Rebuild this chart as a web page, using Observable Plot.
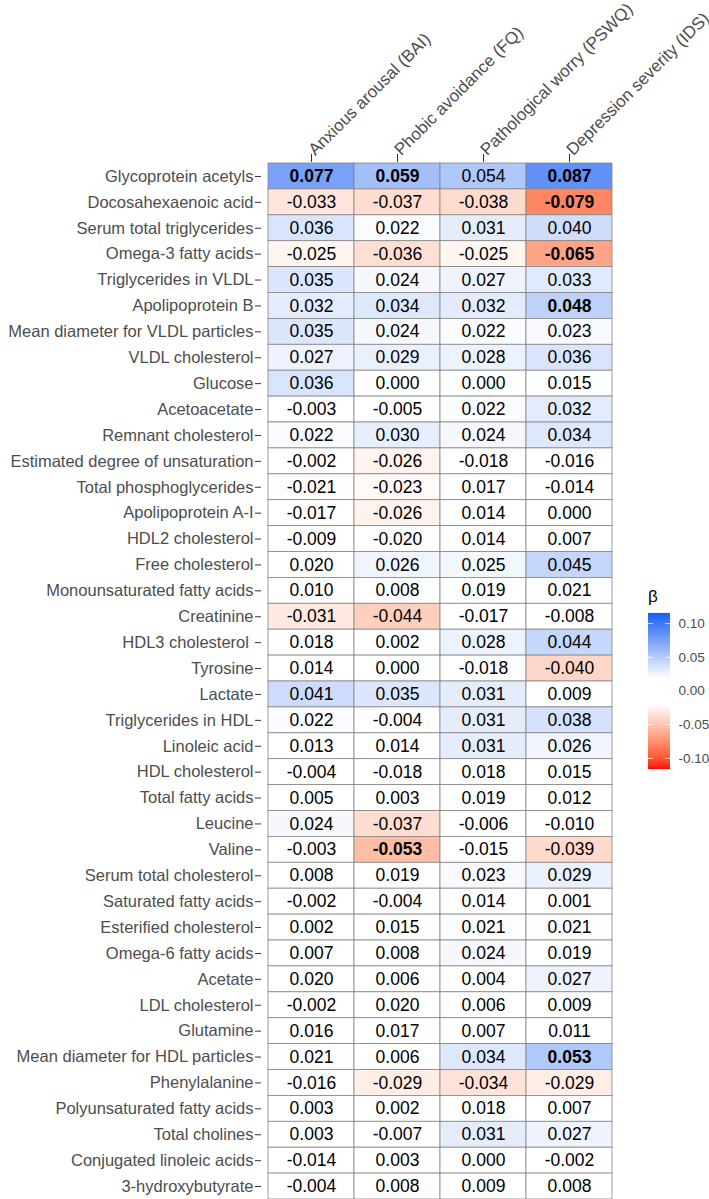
<!DOCTYPE html>
<html><head><meta charset="utf-8">
<script src="https://cdn.jsdelivr.net/npm/d3@7"></script>
<script src="https://cdn.jsdelivr.net/npm/@observablehq/plot@0.6"></script>
<style>
body{margin:0;background:#fff;}
#wrap{position:relative;width:709px;height:1199px;font-family:"Liberation Sans",Arial,sans-serif;overflow:hidden;}
#main{position:absolute;left:0;top:0;}
#legend{position:absolute;left:640px;top:603px;}
#ltitle{position:absolute;left:648px;top:587px;font-size:17px;color:#000;line-height:20px;}
</style></head><body>
<div id="wrap"><div id="main"></div><div id="ltitle">β</div><div id="legend"></div></div>
<script>
const columns = ["Anxious arousal (BAI)", "Phobic avoidance (FQ)", "Pathological worry (PSWQ)", "Depression severity (IDS)"];
const metabolites = [
  "Glycoprotein acetyls", "Docosahexaenoic acid", "Serum total triglycerides", "Omega-3 fatty acids",
  "Triglycerides in VLDL", "Apolipoprotein B", "Mean diameter for VLDL particles", "VLDL cholesterol",
  "Glucose", "Acetoacetate", "Remnant cholesterol", "Estimated degree of unsaturation",
  "Total phosphoglycerides", "Apolipoprotein A-I", "HDL2 cholesterol", "Free cholesterol",
  "Monounsaturated fatty acids", "Creatinine", "HDL3 cholesterol\u00a0", "Tyrosine",
  "Lactate", "Triglycerides in HDL", "Linoleic acid", "HDL cholesterol",
  "Total fatty acids", "Leucine", "Valine", "Serum total cholesterol",
  "Saturated fatty acids", "Esterified cholesterol", "Omega-6 fatty acids", "Acetate",
  "LDL cholesterol", "Glutamine", "Mean diameter for HDL particles", "Phenylalanine",
  "Polyunsaturated fatty acids", "Total cholines", "Conjugated linoleic acids", "3-hydroxybutyrate"
];
const bai = [0.077, -0.033, 0.036, -0.025, 0.035, 0.032, 0.035, 0.027, 0.036, -0.003,
  0.022, -0.002, -0.021, -0.017, -0.009, 0.020, 0.010, -0.031, 0.018, 0.014,
  0.041, 0.022, 0.013, -0.004, 0.005, 0.024, -0.003, 0.008, -0.002, 0.002,
  0.007, 0.020, -0.002, 0.016, 0.021, -0.016, 0.003, 0.003, -0.014, -0.004];
const fq = [0.059, -0.037, 0.022, -0.036, 0.024, 0.034, 0.024, 0.029, 0.000, -0.005,
  0.030, -0.026, -0.023, -0.026, -0.020, 0.026, 0.008, -0.044, 0.002, 0.000,
  0.035, -0.004, 0.014, -0.018, 0.003, -0.037, -0.053, 0.019, -0.004, 0.015,
  0.008, 0.006, 0.020, 0.017, 0.006, -0.029, 0.002, -0.007, 0.003, 0.008];
const pswq = [0.054, -0.038, 0.031, -0.025, 0.027, 0.032, 0.022, 0.028, 0.000, 0.022,
  0.024, -0.018, 0.017, 0.014, 0.014, 0.025, 0.019, -0.017, 0.028, -0.018,
  0.031, 0.031, 0.031, 0.018, 0.019, -0.006, -0.015, 0.023, 0.014, 0.021,
  0.024, 0.004, 0.006, 0.007, 0.034, -0.034, 0.018, 0.031, 0.000, 0.009];
const ids = [0.087, -0.079, 0.040, -0.065, 0.033, 0.048, 0.023, 0.036, 0.015, 0.032,
  0.034, -0.016, -0.014, 0.000, 0.007, 0.045, 0.021, -0.008, 0.044, -0.040,
  0.009, 0.038, 0.026, 0.015, 0.012, -0.010, -0.039, 0.029, 0.001, 0.021,
  0.019, 0.027, 0.009, 0.011, 0.053, -0.029, 0.007, 0.027, -0.002, 0.008];
const boldBAI = ["Glycoprotein acetyls"];
const boldFQ = ["Glycoprotein acetyls", "Valine"];
const boldPSWQ = [];
const boldIDS = ["Glycoprotein acetyls", "Docosahexaenoic acid", "Omega-3 fatty acids", "Apolipoprotein B", "Mean diameter for HDL particles"];
const legendTicks = [-0.10, -0.05, 0.00, 0.05, 0.10];

const series = [bai, fq, pswq, ids];
const bolds = [boldBAI, boldFQ, boldPSWQ, boldIDS];
const table = metabolites.flatMap((m, i) => columns.map((c, j) => ({
  metabolite: m, scale: c, beta: series[j][i], bold: bolds[j].includes(m)
})));

const RED = "#ff0000", BLUE = "#1f62f2";
const colorOpts = {
  type: "linear",
  domain: [-0.115, -0.02, 0.02, 0.115],
  range: [RED, "#ffffff", "#ffffff", BLUE],
  interpolate: (a, b) => (a === RED || b === RED) ? d3.interpolateLab(a, b) : d3.interpolateRgb(a, b),
  clamp: true
};
const FONT = "'Liberation Sans', Arial, sans-serif";

const main = Plot.plot({
  width: 709, height: 1199,
  marginLeft: 261, marginRight: 97, marginTop: 161, marginBottom: 0,
  style: {fontFamily: FONT, fontSize: "16.5px", background: "white", overflow: "visible"},
  x: {domain: columns, range: [268, 612], padding: 0, label: null},
  y: {domain: metabolites, range: [163, 1199], padding: 0, label: null},
  color: colorOpts,
  marks: [
    Plot.cell(table, {x: "scale", y: "metabolite", fill: "beta", stroke: "#858585", strokeWidth: 0.8, inset: 0}),
    Plot.text(table.filter(d => !d.bold), {x: "scale", y: "metabolite", text: d => d.beta.toFixed(3), fill: "black", fontSize: 17.5}),
    Plot.text(table.filter(d => d.bold), {x: "scale", y: "metabolite", text: d => d.beta.toFixed(3), fill: "black", fontSize: 17.5, fontWeight: "bold"}),
    Plot.axisY({anchor: "left", tickSize: 6, tickPadding: 2, fontSize: 16.5, fill: "#4d4d4d", stroke: "#333", label: null}),
    Plot.axisX({anchor: "top", tickSize: 8, tickPadding: 1, tickRotate: -45, textAnchor: "start", lineAnchor: "middle", fontSize: 17, fill: "#4d4d4d", stroke: "#333", label: null})
  ]
});
document.getElementById("main").appendChild(main);

const legendSteps = d3.range(-0.115, 0.1155, 0.0005);
const legend = Plot.plot({
  width: 69, height: 175,
  marginLeft: 8, marginRight: 39, marginTop: 10, marginBottom: 10,
  style: {fontFamily: FONT, fontSize: "13.5px", background: "transparent", overflow: "visible"},
  y: {domain: [-0.115, 0.115], label: null},
  color: colorOpts,
  marks: [
    Plot.ruleY(legendSteps, {y: d => d, stroke: d => d, strokeWidth: 1.2}),
    Plot.ruleY(legendTicks, {y: d => d, stroke: "white", strokeOpacity: 0.8, insetRight: 17}),
    Plot.ruleY(legendTicks, {y: d => d, stroke: "white", strokeOpacity: 0.8, insetLeft: 17}),
    Plot.axisY({anchor: "right", ticks: legendTicks, tickSize: 0, tickPadding: 8, tickFormat: d => d.toFixed(2), fill: "#4d4d4d", fontSize: 13.5, label: null})
  ]
});
document.getElementById("legend").appendChild(legend);
</script>
</body></html>
